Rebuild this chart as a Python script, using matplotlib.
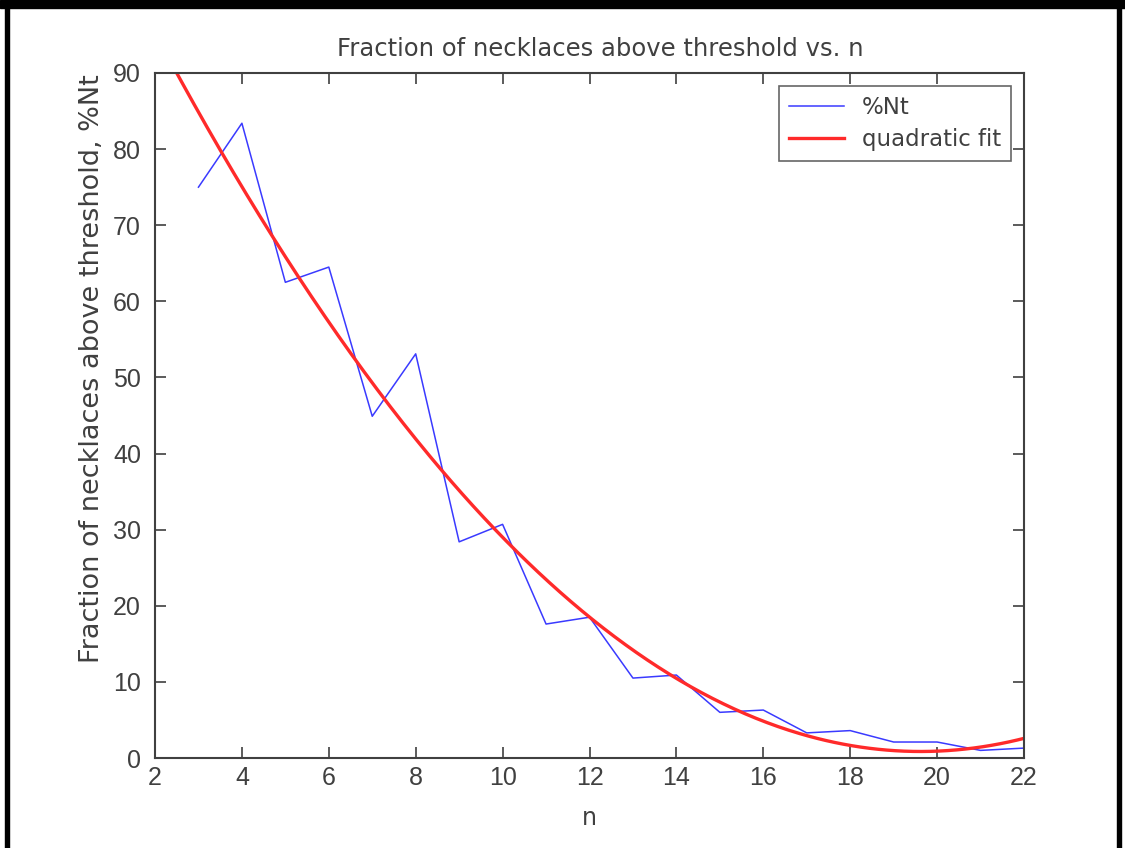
import numpy as np
import matplotlib
matplotlib.use("Agg")
import matplotlib.pyplot as plt
from matplotlib.patches import Rectangle

# data
n_values = [3, 4, 5, 6, 7, 8, 9, 10, 11, 12, 13, 14, 15, 16, 17, 18, 19, 20, 21, 22]
pct_nt = [75.0, 83.4, 62.5, 64.5, 44.9, 53.1, 28.4, 30.7, 17.6, 18.5,
          10.5, 10.9, 6.0, 6.3, 3.3, 3.6, 2.1, 2.1, 1.0, 1.3]
fit_coeffs = [0.3042, -11.936, 117.94]   # quadratic fit a*n^2 + b*n + c
x_ticks = [2, 4, 6, 8, 10, 12, 14, 16, 18, 20, 22]
y_ticks = [0, 10, 20, 30, 40, 50, 60, 70, 80, 90]

plt.rcParams['font.family'] = ['Liberation Sans', 'DejaVu Sans']
txt = '#404040'
wide = ['DejaVu Sans']

fig = plt.figure(figsize=(11.25, 8.48), dpi=100)
fig.patch.set_facecolor('white')
W, H = 1125, 848
ax = fig.add_axes([155 / W, 1 - 758 / H, (1024 - 155) / W, (758 - 73) / H])

ax.plot(n_values, pct_nt, color='#3a3aff', lw=1.1, label='%Nt')
xf = np.linspace(2, 22, 400)
ax.plot(xf, np.polyval(fit_coeffs, xf), color='#ff2a2a', lw=2.4, label='quadratic fit')

ax.set_xlim(2, 22)
ax.set_ylim(0, 90)
ax.set_xticks(x_ticks)
ax.set_yticks(y_ticks)
ax.tick_params(direction='in', length=8, width=1.2, colors=txt, labelsize=18,
               top=True, right=True)
ax.tick_params(axis='x', pad=6)
ax.tick_params(axis='y', pad=10)
for s in ax.spines.values():
    s.set_color(txt)
    s.set_linewidth(1.5)

ax.set_title('Fraction of necklaces above threshold vs. n', fontsize=17.5, color=txt,
             pad=12, x=(600 - 155) / 869, family=wide)
ax.set_xlabel('n', fontsize=17, color=txt, labelpad=11, family=wide)
ax.set_ylabel('Fraction of necklaces above threshold, %Nt', fontsize=19.5, color=txt,
              family=wide)
ax.yaxis.set_label_coords(-0.058, 0.568)

leg = ax.legend(loc='upper right', prop={'family': 'DejaVu Sans', 'size': 16.5},
                frameon=True, fancybox=False, edgecolor=txt, borderaxespad=0.57,
                handlelength=2.4, labelspacing=0.42, borderpad=0.42)
leg.get_frame().set_linewidth(1.2)
for t in leg.get_texts():
    t.set_color(txt)

# black outer frame (top, left, right)
fig.patches.append(Rectangle((0, 1 - 8 / H), 1, 8 / H, transform=fig.transFigure,
                             color='black', zorder=10))
fig.patches.append(Rectangle((5 / W, 0), 4 / W, 1, transform=fig.transFigure,
                             color='black', zorder=10))
fig.patches.append(Rectangle((1117 / W, 0), 4 / W, 1, transform=fig.transFigure,
                             color='black', zorder=10))

fig.savefig('out.png', dpi=100, facecolor='white')
